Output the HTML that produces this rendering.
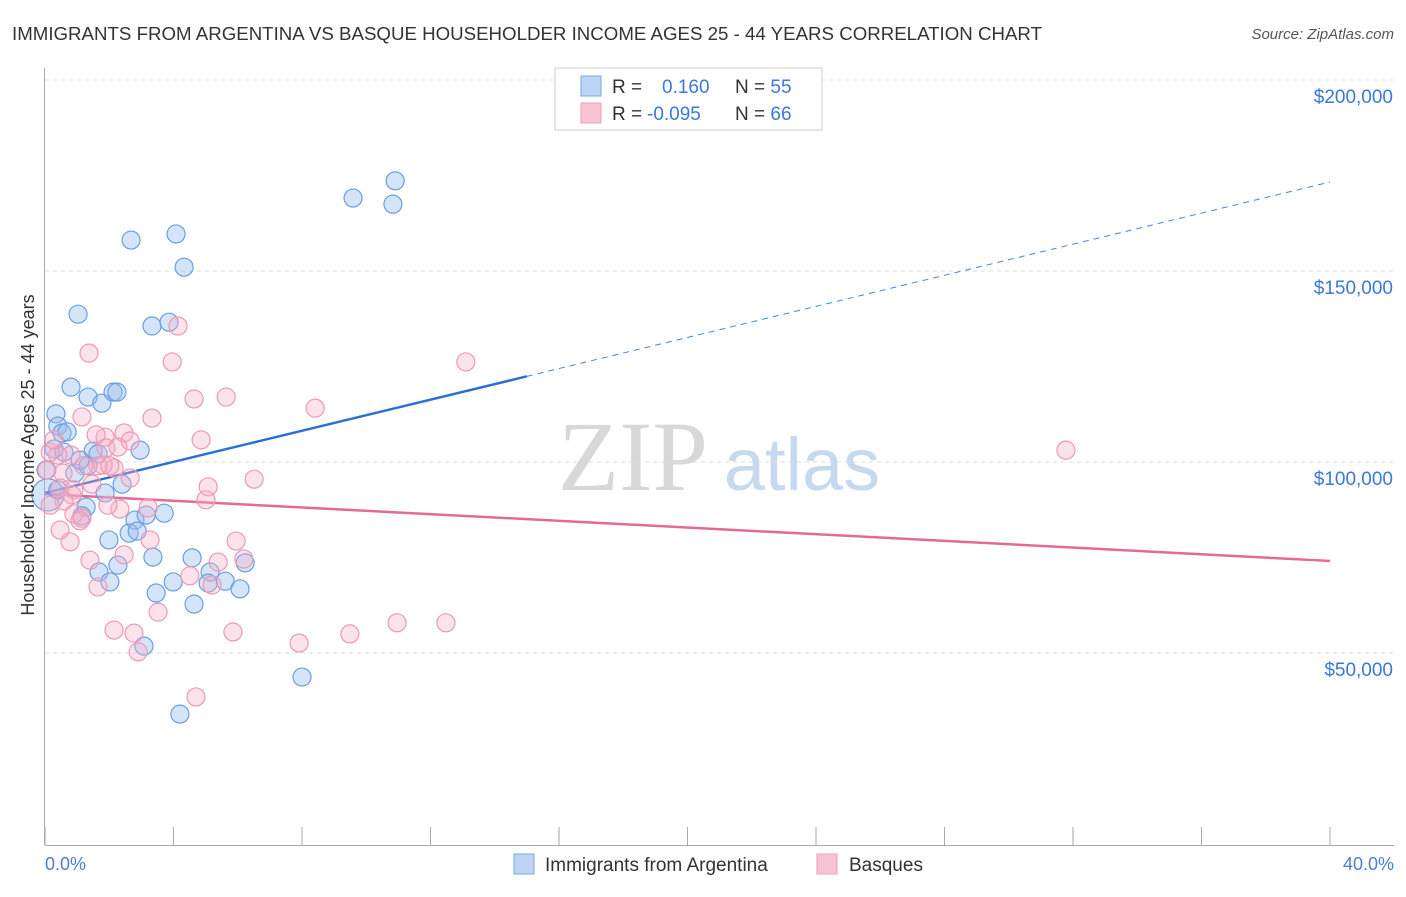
<!DOCTYPE html>
<html><head><meta charset="utf-8"><style>
body{margin:0;background:#fff;font-family:"Liberation Sans",sans-serif}
</style></head><body>
<svg id="chart" width="1406" height="892" xmlns="http://www.w3.org/2000/svg">
<text x="12" y="40" font-size="18" fill="#333" textLength="1030" lengthAdjust="spacingAndGlyphs">IMMIGRANTS FROM ARGENTINA VS BASQUE HOUSEHOLDER INCOME AGES 25 - 44 YEARS CORRELATION CHART</text>
<text x="1394" y="39" font-size="15" fill="#555" font-style="italic" text-anchor="end">Source: ZipAtlas.com</text>
<g>
<text x="633" y="490" font-size="100" font-family="Liberation Serif" fill="#d8d8d8" text-anchor="middle">ZIP</text>
<text x="802" y="490" font-size="74" fill="#c6d9f0" text-anchor="middle">atlas</text>
</g>
<g id="grid"></g><g id="axes"></g><g id="lines"></g><g id="pts"></g>
<text transform="translate(34,455) rotate(-90)" font-size="18" fill="#333" text-anchor="middle">Householder Income Ages 25 - 44 years</text>
<text x="45" y="870" font-size="18" fill="#4a7fd4">0.0%</text>
<text x="1394" y="870" font-size="18" fill="#4a7fd4" text-anchor="end">40.0%</text>
<g>
<rect x="555" y="68" width="267" height="62" fill="#fff" stroke="#ccc"/>
<rect x="581" y="76" width="20" height="20" fill="#bcd4f5" stroke="#7aa7e0"/>
<rect x="581" y="103" width="20" height="20" fill="#f8c4d4" stroke="#eaa0b8"/>
<text x="612" y="93" font-size="19" fill="#333">R = <tspan fill="#3b78d8" x="662">0.160</tspan><tspan fill="#333" x="735">N = </tspan><tspan fill="#3b78d8">55</tspan></text>
<text x="612" y="120" font-size="19" fill="#333">R = <tspan fill="#3b78d8" x="647">-0.095</tspan><tspan fill="#333" x="735">N = </tspan><tspan fill="#3b78d8">66</tspan></text>
</g>
<g>
<rect x="514" y="854" width="20" height="20" fill="#bcd4f5" stroke="#7aa7e0"/>
<text x="545" y="871" font-size="19" fill="#333">Immigrants from Argentina</text>
<rect x="817" y="854" width="20" height="20" fill="#f8c4d4" stroke="#eaa0b8"/>
<text x="849" y="871" font-size="19" fill="#333">Basques</text>
</g>
</svg>
<script>
const yTicks=[50,100,150,200];
const yTickLabels=["$50,000","$100,000","$150,000","$200,000"];
const xTicks=[0,4,8,12,16,20,24,28,32,36,40];
const blueX=[1.03,2.68,4.08,4.33,3.33,3.86,9.59,10.9,10.83,0.81,1.34,1.77,2.12,2.24,0.34,0.40,0.53,0.69,0.28,0.59,1.50,1.65,2.96,0.93,1.34,2.40,1.87,1.28,1.15,2.80,3.15,3.71,2.62,2.87,1.99,3.36,2.27,1.68,2.02,4.58,5.14,5.08,5.61,6.23,6.07,3.99,3.46,4.64,3.08,8.0,4.2,0.09,0.40,1.09,0.03];
const blueY=[138.7,158.1,159.7,151.0,135.6,136.6,169.1,173.6,167.5,119.6,117.0,115.4,118.3,118.3,112.6,109.4,107.6,107.9,103.4,102.6,102.9,102.1,103.1,97.1,99.0,94.2,91.9,88.2,85.9,84.8,86.1,86.6,81.4,81.9,79.6,75.1,73.0,71.2,68.6,74.9,71.2,68.3,68.8,73.6,66.8,68.6,65.7,62.8,51.8,43.7,34.0,91.4,92.7,100.5,97.9];
const pinkX=[1.37,4.14,3.96,13.1,1.15,4.64,5.64,8.41,1.87,1.59,2.46,2.65,1.90,2.27,2.15,1.81,1.65,2.02,0.81,0.40,0.16,0.28,4.86,31.78,3.33,0.56,1.21,0.47,0.90,0.84,0.59,1.46,2.65,6.51,5.08,5.01,2.33,3.21,0.90,1.15,1.09,0.78,3.27,5.95,2.46,1.40,6.19,5.39,4.51,1.65,3.52,2.15,2.77,2.90,5.85,7.91,9.49,10.96,12.48,4.70,5.2,0.06,0.16,0.47,1.96];
const pinkY=[128.5,135.6,126.2,126.2,111.8,116.5,117.0,114.1,106.5,107.1,107.6,105.5,103.7,103.9,98.4,99.2,99.0,99.0,101.8,101.8,102.6,105.8,105.8,103.1,111.5,97.1,99.0,93.2,92.7,91.4,89.8,94.2,95.8,95.5,93.5,90.1,87.7,88.0,86.4,85.3,84.6,79.1,79.6,79.3,75.7,74.3,74.6,73.8,70.2,67.3,60.7,56.0,55.2,50.3,55.5,52.6,55.0,57.9,57.9,38.5,67.8,97.9,88.7,82.2,88.7];
const blueTrend=[91.9,173.3];
const pinkTrend=[91.6,74.1];
const blueSolidEnd=15;
const NS="http://www.w3.org/2000/svg";
const X=v=>45+v*32.125, Y=v=>844-v*3.82;
function mk(tag,attrs,parent){const e=document.createElementNS(NS,tag);for(const k in attrs)e.setAttribute(k,attrs[k]);document.getElementById(parent).appendChild(e);return e;}
yTicks.forEach((t,i)=>{
 const l=mk('line',{x1:45,x2:1394,y1:Y(t),y2:Y(t),stroke:'#ddd','stroke-dasharray':'4,4'},'grid');
 
 
 const tx=mk('text',{x:1393,y:Y(t)+23,'font-size':19,fill:'#3b78d8','text-anchor':'end'},'grid');
 tx.textContent=yTickLabels[i];
 
 
});
const ya=mk('line',{x1:44.5,x2:44.5,y1:68,y2:845,stroke:'#aaa'},'axes');


const xa=mk('line',{x1:45,x2:1394,y1:845.5,y2:845.5,stroke:'#aaa'},'axes');


xTicks.forEach(t=>{
 const l=mk('line',{x1:X(t),x2:X(t),y1:827,y2:845,stroke:'#aaa'},'axes');
 
 
});
function ty(tr,x){return tr[0]+(tr[1]-tr[0])*x/40;}
const b1=mk('line',{x1:X(0),y1:Y(ty(blueTrend,0)),x2:X(blueSolidEnd),y2:Y(ty(blueTrend,blueSolidEnd)),stroke:'#2b6fd6','stroke-width':2.5},'lines');


const b2=mk('line',{x1:X(blueSolidEnd),y1:Y(ty(blueTrend,blueSolidEnd)),x2:X(40),y2:Y(ty(blueTrend,40)),stroke:'#4a84dc','stroke-width':1,'stroke-dasharray':'6,5'},'lines');


const p1=mk('line',{x1:X(0),y1:Y(ty(pinkTrend,0)),x2:X(40),y2:Y(ty(pinkTrend,40)),stroke:'#e46a95','stroke-width':2.5},'lines');


blueX.forEach((x,i)=>{
 const c=mk('circle',{cx:X(x),cy:Y(blueY[i]),r:(i==51?16:9),fill:'rgba(150,190,240,0.4)',stroke:'#6b9ee0','stroke-width':1.2},'pts');
 
 
});
pinkX.forEach((x,i)=>{
 const c=mk('circle',{cx:X(x),cy:Y(pinkY[i]),r:9,fill:'rgba(246,176,198,0.35)',stroke:'#eb9ab5','stroke-width':1.2},'pts');
 
 
});
</script>
</body></html>
